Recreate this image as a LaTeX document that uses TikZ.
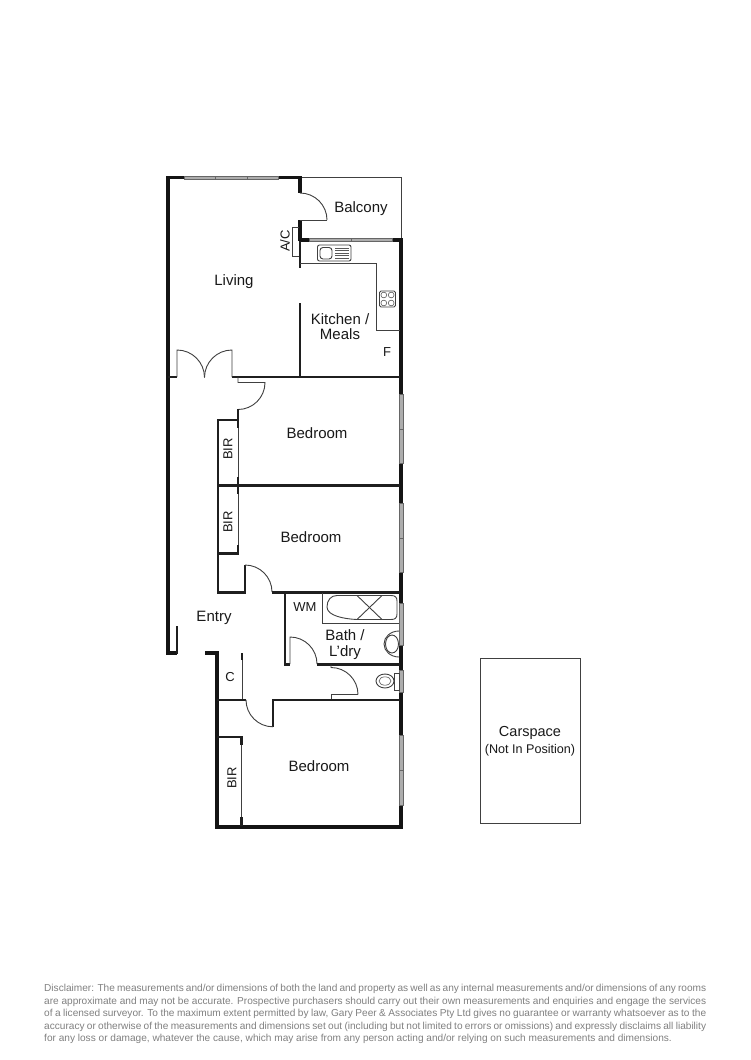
\documentclass[tikz,border=0pt]{standalone}
\usepackage{fontspec}
\setmainfont{Liberation Sans}
\tikzset{
  heavy/.style={line width=3.7pt,draw=black!92},
  medium/.style={line width=2.1pt,draw=black!88},
  fine/.style={line width=0.9pt,draw=black!75},
  hair/.style={line width=0.6pt,draw=black!65},
  glass/.style={draw=black!60,line width=0.5pt,fill=black!32},
  roomtext/.style={inner sep=0pt,font=\fontsize{15}{15}\selectfont,text=black!90},
  smalltext/.style={inner sep=0pt,font=\fontsize{13}{13}\selectfont,text=black!90},
}
\begin{document}
\begin{tikzpicture}[x=1pt,y=-1pt,line cap=butt,line join=miter]
\useasboundingbox (0,0) rectangle (750,1060);
\fill[white] (0,0) rectangle (750,1060);

% balcony outline
\draw[fine] (300,177.5) -- (401.5,177.5) -- (401.5,240);

% outer walls
\draw[heavy] (184,177.5) -- (168.3,177.5) -- (168.3,653) -- (177,653);
\draw[medium] (177,654) -- (177,626);
\draw[heavy] (278,177.5) -- (300,177.5) -- (300,193);
\draw[heavy] (300,220) -- (300,241);
\draw[heavy] (298.5,240) -- (309,240);
\draw[heavy] (392,240) -- (401,240) -- (401,394);
\draw[heavy] (401,463) -- (401,503);
\draw[heavy] (401,572) -- (401,603);
\draw[heavy] (401,645) -- (401,670);
\draw[heavy] (401,692) -- (401,735);
\draw[heavy] (401,805) -- (401,827);
\draw[line width=3.9pt,draw=black!92] (216.7,653) -- (216.7,827.3) -- (402.8,827.3);
\draw[heavy] (205,653) -- (218.5,653);

% windows
\foreach \a/\b in {184/215,215/247,247/278}{\draw[glass] (\a,175.8) rectangle (\b,179.2);}
\foreach \a/\b in {309/351,351/392}{\draw[glass] (\a,238.3) rectangle (\b,241.7);}
\foreach \a/\b in {394/429,429/463,503/538,538/572,603/645,670/692,735/770,770/805}{\draw[glass] (399.2,\a) rectangle (402.8,\b);}

% balcony door
\draw[fine] (300,193) arc[start angle=90,end angle=0,radius=27pt];
\draw[fine] (327,220) -- (300,220);

% A/C
\draw[fine] (299,227) -- (292,227) -- (292,256) -- (300,256);

% living / kitchen wall
\draw[medium] (300,241) -- (300,268);
\draw[medium] (300,303) -- (300,377);
\draw[medium] (168,377) -- (177,377);
\draw[medium] (232,377) -- (400,377);

% kitchen bench, sink, cooktop
\draw[fine] (300,263) -- (376,263) -- (376,330) -- (400,330);
\draw[fine,rounded corners=2pt] (317.5,245) rectangle (351,261);
\draw[fine,rounded corners=3pt] (320,247.5) rectangle (332,259);
\foreach \y in {248,250.5,253,255.5,258}{\draw[hair] (335,\y) -- (348.5,\y);}
\draw[fine,rounded corners=1.5pt] (379.5,291) rectangle (395.5,307);
\foreach \cx/\cy in {383.8/295,391.2/295,383.8/303,391.2/303}{\draw[hair] (\cx,\cy) circle[radius=2.9pt];}

% double door
\draw[fine] (177,377) -- (177,350) arc[start angle=90,end angle=0,radius=27.5pt];
\draw[fine] (232,377) -- (232,350) arc[start angle=90,end angle=180,radius=27.5pt];

% first bedroom door and robes
\draw[fine] (238,377) -- (238,382.5) -- (265,382.5) arc[start angle=0,end angle=-90,radius=27pt];
\draw[medium] (238,409) -- (238,428);
\draw[medium] (218,420) -- (238,420);
\draw[fine] (238,428) -- (238,477);
\draw[medium] (238,477) -- (238,494);
\draw[medium] (218,485.5) -- (400,485.5);
\draw[fine] (238,494) -- (238,545);
\draw[medium] (238,545) -- (238,553.5) -- (218,553.5);
\draw[medium] (218,419) -- (218,592.5) -- (245,592.5) -- (245,565);
\draw[fine] (245,565) arc[start angle=90,end angle=0,radius=27pt];
\draw[medium] (272,592.5) -- (400,592.5);

% bath / laundry
\draw[medium] (285,592.5) -- (285,664.5) -- (290,664.5);
\draw[fine] (290,664) -- (290,637) arc[start angle=90,end angle=0,radius=27pt];
\draw[medium] (317,664.5) -- (400,664.5);
\draw[fine] (322,592.5) -- (322,623) -- (399,623);
\draw[fine] (337,595.5) -- (391,595.5) .. controls (395,595.5) and (397,597) .. (397,601) -- (397,614) .. controls (397,618) and (395,619.5) .. (391,619.5) -- (357,619.5) .. controls (345,619) and (327,616) .. (327,607) .. controls (327,600) and (331,595.5) .. (337,595.5) -- cycle;
\draw[fine] (357,595.5) -- (382,619.5);
\draw[fine] (382,595.5) -- (357,619.5);
\draw[fine] (399,631) arc[start angle=90,end angle=270,x radius=15pt,y radius=13pt];
\draw[fine] (392,644) ellipse[x radius=6.5pt,y radius=9pt];

% toilet
\draw[fine] (331,664.5) -- (331,667.5) arc[start angle=90,end angle=0,radius=27pt];
\draw[fine] (358,694.5) -- (331,694.5) -- (331,700);
\draw[fine] (394,681) arc[start angle=0,end angle=360,x radius=9pt,y radius=7pt];
\draw[hair] (385,681) ellipse[x radius=6pt,y radius=4.2pt];
\draw[fine] (394.5,673.5) rectangle (399,690);

% closet, third bedroom
\draw[medium] (217,699.8) -- (246,699.8);
\draw[fine] (242,653) -- (242,699);
\draw[medium] (242,653) -- (242,660);
\draw[medium] (273,727) -- (273,699.8) -- (400,699.8);
\draw[fine] (246,699.8) arc[start angle=180,end angle=270,radius=27pt];
\draw[medium] (217,737.2) -- (241.5,737.2) -- (241.5,745);
\draw[fine] (241.5,745) -- (241.5,817);
\draw[medium] (241.5,817) -- (241.5,826);

% carspace
\draw[fine] (480.5,658.5) rectangle (580,823);

% labels
\node[roomtext] (living) at (234,282) {Living};
\node[roomtext] (balcony) at (361,209) {Balcony};
\node[roomtext,align=center] (kitchen) at (340,326.5) {Kitchen /\\[0pt]Meals};
\node[smalltext] (fridge) at (387,352.5) {F};
\node[smalltext,rotate=90] (ac) at (285,241) {A/C};
\node[roomtext] (bed1) at (317,433) {Bedroom};
\node[smalltext,rotate=90] (bir1) at (228,449) {BIR};
\node[roomtext] (bed2) at (311,537) {Bedroom};
\node[smalltext,rotate=90] (bir2) at (228,522) {BIR};
\node[roomtext] (entry) at (214,618) {Entry};
\node[smalltext] (wm) at (305,607) {WM};
\node[roomtext,align=center] (bath) at (345,644.5) {Bath /\\[1pt]L’dry};
\node[smalltext] (closet) at (230,677) {C};
\node[roomtext] (bed3) at (319,766) {Bedroom};
\node[smalltext,rotate=90] (bir3) at (232,778) {BIR};
\node[inner sep=0pt,font=\fontsize{14.5}{14.5}\selectfont,text=black!90] (car) at (530,733) {Carspace};
\node[inner sep=0pt,font=\fontsize{12.6}{12.6}\selectfont,text=black!90] (carnote) at (530,750) {(Not In Position)};

% disclaimer
\node[anchor=north west,inner sep=0pt,align=left,text=black!50,font=\fontsize{10.1}{12.5}\selectfont] (disclaimer) at (44,984) {%
\makebox[662pt][s]{Disclaimer: The measurements and/or dimensions of both the land and property as well as any internal measurements and/or dimensions of any rooms}\\
\makebox[662pt][s]{are approximate and may not be accurate. Prospective purchasers should carry out their own measurements and enquiries and engage the services}\\
\makebox[662pt][s]{of a licensed surveyor. To the maximum extent permitted by law, Gary Peer \& Associates Pty Ltd gives no guarantee or warranty whatsoever as to the}\\
\makebox[662pt][s]{accuracy or otherwise of the measurements and dimensions set out (including but not limited to errors or omissions) and expressly disclaims all liability}\\
for any loss or damage, whatever the cause, which may arise from any person acting and/or relying on such measurements and dimensions.};
\end{tikzpicture}
\end{document}
